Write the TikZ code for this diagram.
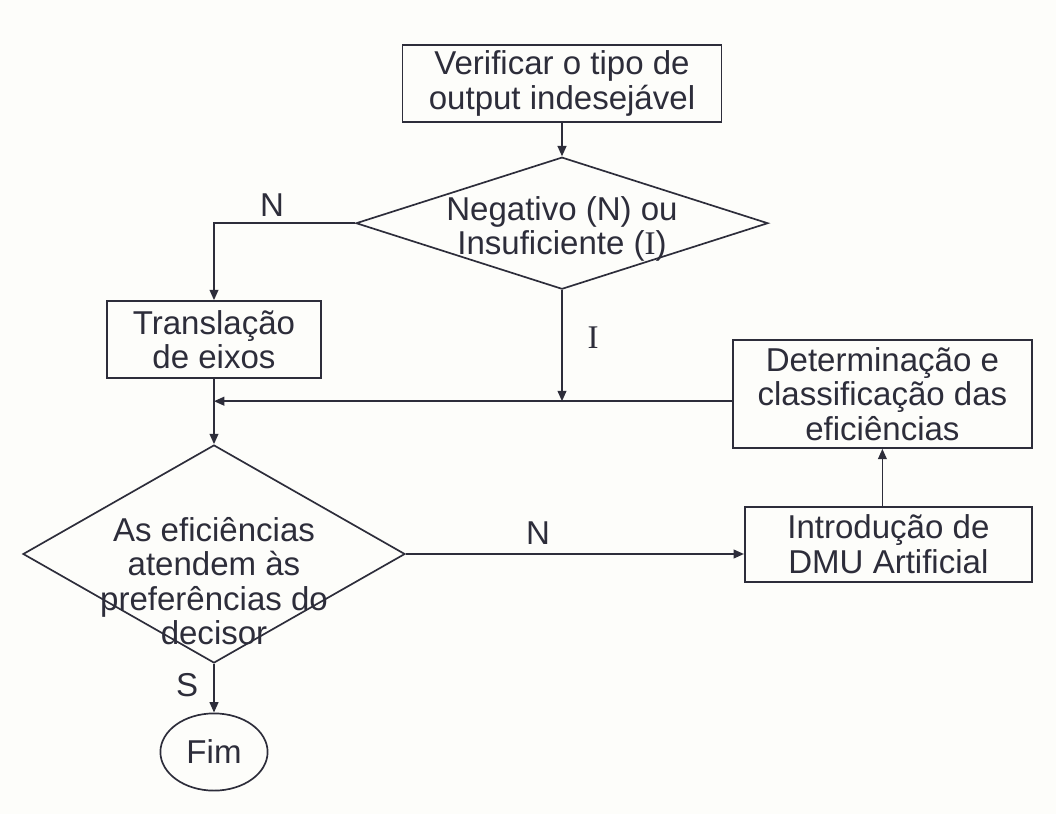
\documentclass[tikz,border=0pt]{standalone}
\usepackage{fontspec}
\setmainfont{Liberation Sans}
\newfontfamily\serifletter{Liberation Serif}
\usepackage{xcolor}
\usetikzlibrary{shapes.geometric}
\usetikzlibrary{positioning}
\usetikzlibrary{arrows.meta}
\definecolor{ink}{RGB}{45,45,58}
\definecolor{paper}{RGB}{253,253,250}

\begin{document}
\begin{tikzpicture}[
  txt/.style={font=\fontsize{23.5}{24.5}\selectfont, text=ink, align=center},
  proc/.style={draw=ink, line width=1.2pt, rectangle, inner sep=0pt, txt},
  decision/.style={draw=ink, line width=1.2pt, diamond, inner sep=0pt},
  term/.style={draw=ink, line width=1.2pt, ellipse, inner sep=0pt, txt},
  flow/.style={draw=ink, line width=1.2pt, -{Triangle[length=2.6mm,width=2.2mm]}},
  lbl/.style={txt, inner sep=0pt}
]
  % page
  \fill[paper] (0,0) rectangle (26.4,-20.35);
  \useasboundingbox (0,0) rectangle (26.4,-20.35);

  % first check
  \node[proc, minimum width=7.98cm, minimum height=1.93cm] (verif) at (14.05,-2.09) {Verificar o tipo de\\output indesejável};
  \node[decision, minimum width=10.3cm, minimum height=3.3cm] (neg) at (14.05,-5.58) {};
  \node[txt] (negtxt) at ([yshift=-0.15cm]neg.center) {Negativo (N) ou\\Insuficiente ({\serifletter I})};
  \draw[flow] (verif.south) -- (neg.north);

  % branch N
  \node[proc, minimum width=5.35cm, minimum height=1.93cm] (trans) at (5.35,-8.49) {Translação\\de eixos};
  \node[lbl] (lblN) at (6.8,-5.13) {N};
  \draw[flow] (neg.west) -| (trans.north);

  % branch I
  \coordinate (jn) at (14.05,-10.03);
  \node[lbl] (lblI) at (14.83,-8.45) {\serifletter I};
  \draw[flow] (neg.south) -- (jn);

  % right column
  \node[proc, minimum width=7.48cm, minimum height=2.7cm] (det) at (22.06,-9.85) {Determinação e\\classificação das\\eficiências};
  \draw[flow] (det.west |- jn) -- (trans.south |- jn);

  % second check
  \node[decision, minimum width=9.55cm, minimum height=5.45cm] (ef) at (5.35,-13.85) {};
  \node[txt] (eftxt) at ([yshift=-0.68cm]ef.center) {As eficiências\\atendem às\\preferências do\\decisor};
  \draw[flow] (trans.south) -- (ef.north);

  \node[proc, minimum width=7.18cm, minimum height=1.88cm] (intro) at (22.21,-13.61) {Introdução de\\DMU Artificial};
  \node[lbl] (lblN2) at (13.45,-13.33) {N};
  \draw[flow] (ef.east) -- (ef.east -| intro.west);
  \draw[flow] (det.south |- intro.north) -- (det.south);

  % end
  \node[term, minimum width=2.68cm, minimum height=1.93cm] (fim) at (5.35,-18.8) {Fim};
  \node[lbl] (lblS) at (4.68,-17.13) {S};
  \draw[flow] (ef.south) -- (fim.north);
\end{tikzpicture}
\end{document}
